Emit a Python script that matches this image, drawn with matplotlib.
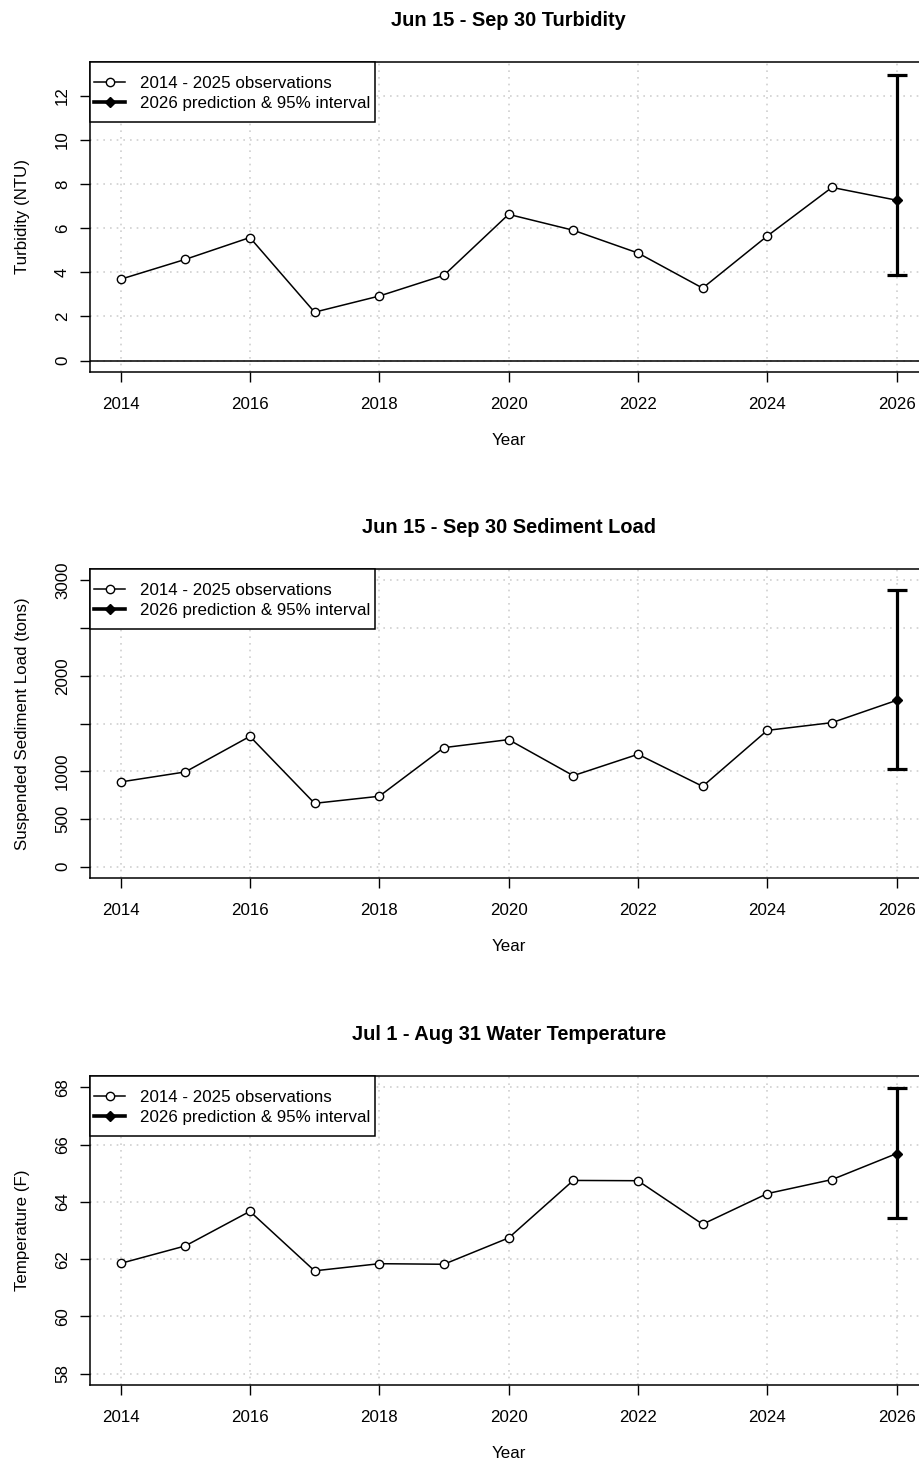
import numpy as np
import matplotlib.pyplot as plt
from matplotlib.lines import Line2D
from matplotlib.patches import Rectangle

plt.rcParams['font.family'] = ['Liberation Sans', 'DejaVu Sans']

# observed years and values
years = [2014, 2015, 2016, 2017, 2018, 2019, 2020, 2021, 2022, 2023, 2024, 2025]
turbidity = [3.68, 4.58, 5.57, 2.19, 2.92, 3.86, 6.62, 5.90, 4.87, 3.28, 5.64, 7.84]
sediment = [887, 992, 1365, 663, 737, 1247, 1331, 953, 1177, 841, 1428, 1509]
temperature = [61.85, 62.46, 63.67, 61.59, 61.84, 61.82, 62.74, 64.75, 64.74, 63.22, 64.29, 64.78]

# 2026 predictions: (estimate, lower, upper)
pred_year = 2026
turb_pred = (7.26, 3.89, 12.94)
sed_pred = (1743, 1024, 2902)
temp_pred = (65.69, 63.42, 67.97)

titles = ['Jun 15 - Sep 30 Turbidity', 'Jun 15 - Sep 30 Sediment Load',
          'Jul 1 - Aug 31 Water Temperature']
ylabels = ['Turbidity (NTU)', 'Suspended Sediment Load (tons)', 'Temperature (F)']
ylims = [(0, 13), (0, 3000), (58, 68)]
yticks = [[0, 2, 4, 6, 8, 10, 12], [0, 500, 1000, 1500, 2000, 2500, 3000], [58, 60, 62, 64, 66, 68]]
ytick_labels = [['0', '2', '4', '6', '8', '10', '12'],
                ['0', '500', '1000', '', '2000', '', '3000'],
                ['58', '60', '62', '64', '66', '68']]
xticks = np.arange(2014, 2027, 2)

W, H = 919, 1467
fig = plt.figure(figsize=(W / 100, H / 100), dpi=100)

# axes box positions in pixels (top, bottom); right edge runs past the figure
boxes = [(62, 372), (569, 878), (1076, 1385)]
left_px, right_px = 89.5, 927.7
ax_w = right_px - left_px

series = [turbidity, sediment, temperature]
preds = [turb_pred, sed_pred, temp_pred]

for i in range(3):
    top, bot = boxes[i]
    ax_h = bot - top
    ax = fig.add_axes([left_px / W, 1 - bot / H, ax_w / W, ax_h / H])
    lo, hi = ylims[i]
    pad = 0.04 * (hi - lo)
    ax.set_ylim(lo - pad, hi + pad)
    ax.set_xlim(2014 - 0.48, 2026 + 0.48)
    ax.set_xticks(xticks)
    ax.set_yticks(yticks[i])
    ax.set_yticklabels(ytick_labels[i], rotation=90, va='center')
    ax.tick_params(direction='out', length=7, width=1, labelsize=12.2)
    ax.tick_params(axis='y', pad=7)
    ax.tick_params(axis='x', pad=11)
    for s in ax.spines.values():
        s.set_linewidth(1.1)
    ax.grid(True, color='#cfcfcf', linestyle=(0, (1, 3)), linewidth=1.2)
    ax.set_axisbelow(True)

    if i == 0:
        ax.axhline(0, color='black', lw=1.1, zorder=2)

    vals = series[i]
    p = preds[i]
    ax.plot(years + [pred_year], vals + [p[0]], color='black', lw=1.1, zorder=3)
    ax.plot(years, vals, 'o', mfc='white', mec='black', mew=1.0, ms=6, zorder=4)
    ax.errorbar([pred_year], [p[0]], yerr=[[p[0] - p[1]], [p[2] - p[0]]], fmt='none',
                ecolor='black', elinewidth=2.3, capsize=7.5, capthick=2.3, zorder=4)
    ax.plot([pred_year], [p[0]], 'D', color='black', ms=5.5, zorder=5)

    ax.set_title(titles[i], fontsize=14.4, fontweight='bold', pad=26)
    ax.set_xlabel('Year', fontsize=12.2, labelpad=15)
    ax.set_ylabel(ylabels[i], fontsize=12.2, labelpad=18)

    # legend box: frame drawn separately, flush with the top-left corner
    frame = Rectangle((0, 1 - 60 / ax_h), (375 - left_px) / ax_w, 60 / ax_h,
                      transform=ax.transAxes, facecolor='white', edgecolor='black',
                      lw=1.1, zorder=6, clip_on=False)
    ax.add_patch(frame)
    handles = [Line2D([], [], color='black', lw=1.1, marker='o', mfc='white', mec='black', ms=6),
               Line2D([], [], color='black', lw=2.6, marker='D', ms=5.5)]
    leg = ax.legend(handles, ['2014 - 2025 observations', '2026 prediction & 95% interval'],
                    loc='upper left', bbox_to_anchor=((94 - left_px) / ax_w, 1 - 14 / ax_h),
                    borderaxespad=0, borderpad=0, fontsize=12.2, frameon=False,
                    handlelength=1.85, handletextpad=0.85, labelspacing=0.32)
    leg.set_zorder(7)

fig.savefig('out.png', dpi=100)
